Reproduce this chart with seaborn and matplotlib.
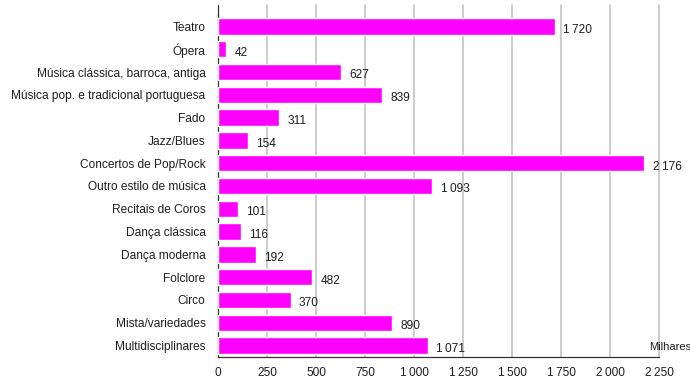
import matplotlib
matplotlib.use("Agg")
import matplotlib.pyplot as plt
import seaborn as sns
import pandas as pd

categories = ["Teatro", "Ópera", "Música clássica, barroca, antiga",
              "Música pop. e tradicional portuguesa", "Fado", "Jazz/Blues",
              "Concertos de Pop/Rock", "Outro estilo de música", "Recitais de Coros",
              "Dança clássica", "Dança moderna", "Folclore", "Circo",
              "Mista/variedades", "Multidisciplinares"]
values = [1720, 42, 627, 839, 311, 154, 2176, 1093, 101, 116, 192, 482, 370, 890, 1071]
xticks = [0, 250, 500, 750, 1000, 1250, 1500, 1750, 2000, 2250]
xtick_labels = ["0", "250", "500", "750", "1\u2009000", "1\u2009250", "1\u2009500",
                "1\u2009750", "2\u2009000", "2\u2009250"]
unit_label = "Milhares"

sns.set_style("white")
plt.rcParams['font.family'] = ['Liberation Sans', 'DejaVu Sans']

df = pd.DataFrame({"cat": categories, "val": values})

W, H = 690, 385
fig = plt.figure(figsize=(6.9, 3.85), dpi=100)
left, right, top, bottom = 218, 659, 15, 357
ax = fig.add_axes([left / W, 1 - bottom / H, (right - left) / W, (bottom - top) / H])

sns.barplot(data=df, y="cat", x="val", orient="h", color="#ff00ff",
            saturation=1, width=0.72, ax=ax, zorder=3)

FS = 8.6
TC = "#1e1e1e"
ax.set_xlim(0, 2250)
ax.set_ylim(len(categories) - 0.5, -0.5)
ax.set_xticks(xticks)
ax.set_xticklabels(xtick_labels, fontsize=FS, color=TC)
ax.set_yticks(range(len(categories)))
ax.set_yticklabels(categories, fontsize=FS, color=TC)
ax.set_xlabel("")
ax.set_ylabel("")

for x in xticks[1:]:
    ax.axvline(x, ymin=0, ymax=1 + 10 / (bottom - top), color="#c8c8c8", lw=1.3,
               zorder=1, clip_on=False)

for s in ["top", "right"]:
    ax.spines[s].set_visible(False)
for s in ["left", "bottom"]:
    ax.spines[s].set_color("#333333")
    ax.spines[s].set_linewidth(0.9)
# extend left spine upward like reference
ax.plot([0, 0], [1, 1 + 10 / (bottom - top)], transform=ax.transAxes,
        color="#333333", lw=0.9, clip_on=False, zorder=4)

ax.tick_params(axis="x", direction="out", length=3, color="#333333", pad=4)
ax.tick_params(axis="y", length=0, pad=9)
ax.set_yticks([i - 0.5 for i in range(len(categories) + 1)], minor=True)
ax.tick_params(axis="y", which="minor", direction="inout", length=5, color="#333333")

for i, v in enumerate(values):
    s = f"{v:,}".replace(",", "\u2009")
    ax.annotate(s, (v, i), xytext=(6, -2.5), textcoords="offset points",
                ha="left", va="center", fontsize=FS, color=TC)

ax.annotate(unit_label, (1.0, 1 - (len(categories) - 1 + 0.5) / len(categories) ),
            xycoords="axes fraction", xytext=(-10 * 0.72, -1),
            textcoords="offset points", ha="left", va="center",
            fontsize=FS - 0.6, color=TC, annotation_clip=False)

fig.savefig("out.png", dpi=100)
